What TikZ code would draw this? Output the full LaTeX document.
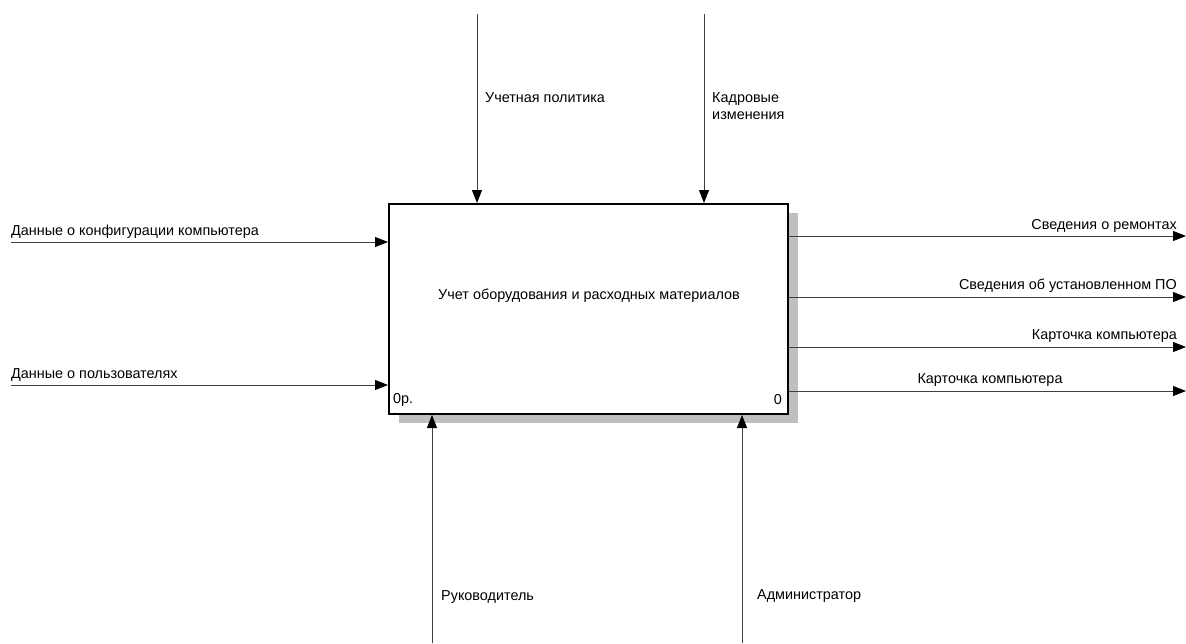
\documentclass[tikz,border=0pt]{standalone}
\usepackage{fontspec}
\setmainfont{Liberation Sans}
\usetikzlibrary{arrows.meta}
\begin{document}
\begin{tikzpicture}[x=1pt,y=-1pt,
  every node/.style={font=\fontsize{14.4}{17}\selectfont, inner sep=0pt, text=black},
  flow/.style={draw=black!75, line width=0.9pt, -{Triangle[length=13pt,width=10pt,color=black,fill=black]}},
  lbl/.style={anchor=west, align=left},
  rlbl/.style={anchor=east, align=right}]
\useasboundingbox (0,0) rectangle (1186,643);
% activity box with its shadow
\fill[black!25] (399,213) rectangle (798,423);
\node[draw=black, line width=2pt, fill=white, minimum width=399pt, minimum height=210pt, anchor=north west]
  (act) at (388,203) {};
\node at (589,296) {Учет оборудования и расходных материалов};
\node[anchor=west] (num) at (393,400) {0р.};
\node[anchor=east] (idx) at (782,400) {0};
% controls
\coordinate (c1) at (477,14);
\coordinate (c2) at (704,14);
\draw[flow] (c1) -- (c1 |- act.north);
\draw[flow] (c2) -- (c2 |- act.north);
\node[lbl] (lc1) at (485,98) {Учетная политика};
\node[lbl] (lc2) at (712,106) {Кадровые\\изменения};
% inputs
\coordinate (i1) at (11,242);
\coordinate (i2) at (11,385);
\draw[flow] (i1) -- (i1 -| act.west);
\draw[flow] (i2) -- (i2 -| act.west);
\node[lbl] (li1) at (11,232) {Данные о конфигурации компьютера};
\node[lbl] (li2) at (11,375) {Данные о пользователях};
% outputs
\coordinate (o1) at (1186,236);
\coordinate (o2) at (1186,297);
\coordinate (o3) at (1186,347);
\coordinate (o4) at (1186,391);
\draw[flow] (o1 -| act.east) -- (o1);
\draw[flow] (o2 -| act.east) -- (o2);
\draw[flow] (o3 -| act.east) -- (o3);
\draw[flow] (o4 -| act.east) -- (o4);
\node[rlbl] (lo1) at (1177,226) {Сведения о ремонтах};
\node[rlbl] (lo2) at (1177,286) {Сведения об установленном ПО};
\node[rlbl] (lo3) at (1177,336) {Карточка компьютера};
\node (lo4) at (990,380) {Карточка компьютера};
% mechanisms
\coordinate (m1) at (432,643);
\coordinate (m2) at (742,643);
\draw[flow] (m1) -- (m1 |- act.south);
\draw[flow] (m2) -- (m2 |- act.south);
\node[lbl] (lm1) at (441,597) {Руководитель};
\node[lbl] (lm2) at (757,596) {Администратор};
\end{tikzpicture}
\end{document}
